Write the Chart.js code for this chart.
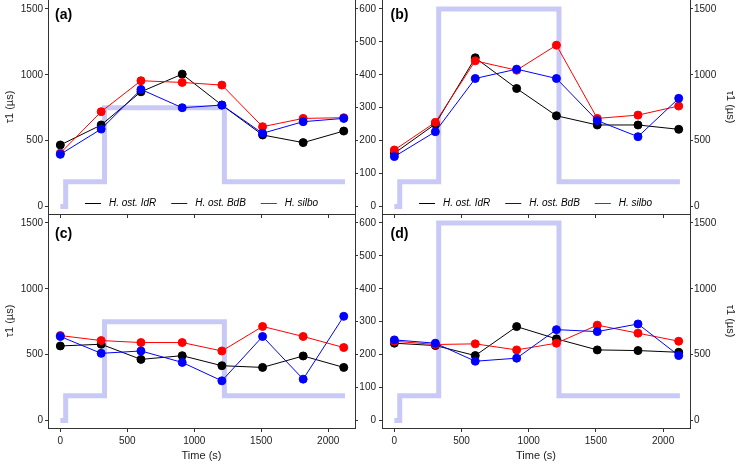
<!DOCTYPE html>
<html lang="en">
<head>
<meta charset="UTF-8">
<title>tau1 over time, four panels</title>
<script src="https://cdn.jsdelivr.net/npm/chart.js"></script>
<style>
  html, body { margin: 0; padding: 0; background: #fff; }
  #wrap { position: relative; width: 738px; height: 464px; }
  #wrap canvas { position: absolute; left: 0; top: 0; }
</style>
</head>
<body>
<div id="wrap">
  <canvas id="panelA" width="738" height="464"></canvas>
  <canvas id="panelB" width="738" height="464"></canvas>
  <canvas id="panelC" width="738" height="464"></canvas>
  <canvas id="panelD" width="738" height="464"></canvas>
</div>
<script>
// sampling times (s)
const timeS = [0, 305, 602, 910, 1206, 1510, 1813, 2116];
const seriesNames = ['H. ost. IdR', 'H. ost. BdB', 'H. silbo'];

// tau1 (us), panel (a)
const aIdR   = [467, 619, 871, 1005, 770, 543, 485, 573];
const aBdB   = [396, 588, 889, 750, 770, 556, 644, 669];
const aSilbo = [405, 720, 955, 942, 922, 606, 669, 674];
// panel (b)
const bIdR   = [404, 626, 1129, 896, 689, 619, 619, 586];
const bBdB   = [379, 568, 972, 1043, 972, 652, 530, 821];
const bSilbo = [429, 639, 1106, 1035, 1225, 669, 694, 763];
// panel (c)
const cIdR   = [566, 579, 464, 492, 416, 403, 490, 403];
const cBdB   = [638, 510, 528, 441, 301, 638, 314, 791];
const cSilbo = [645, 607, 592, 592, 528, 714, 638, 554];
// panel (d)
const dIdR   = [587, 569, 493, 713, 620, 536, 531, 518];
const dBdB   = [612, 587, 450, 473, 690, 675, 733, 493];
const dSilbo = [602, 577, 582, 536, 587, 724, 663, 602];

// light protocol (0-600 axis)
const stepTimes = [0, 40, 330, 1225, 2125];
const stepLow   = [0, 75, 300, 75, 75];
const stepHigh  = [0, 75, 600, 75, 75];

const tauTicks = [0, 500, 1000, 1500];
const lightTicks = [0, 100, 200, 300, 400, 500, 600];
const timeTicks = [0, 500, 1000, 1500, 2000];

const seriesColors = ['#000000', '#0000ff', '#ff0000'];
const drawOrder = [2, 0, 1];   // blue on top, then red, then black
const stepColor = '#c9c9f7';
const axisColor = '#333';
const textColor = '#222';
const fam = '"Liberation Sans", Arial, Helvetica, sans-serif';

function fixSize(w, h) {
  return scale => {
    if (w !== null) scale.width = w;
    if (h !== null) scale.height = h;
    scale.paddingLeft = scale.paddingRight = scale.paddingTop = scale.paddingBottom = 0;
  };
}
function setTicks(list) {
  return scale => { scale.ticks = list.map(v => ({ value: v })); };
}

// panel letter + in-plot legend
const panelDeco = {
  id: 'panelDeco',
  afterDraw(chart, args, opts) {
    const { ctx, chartArea } = chart;
    ctx.save();
    ctx.fillStyle = '#000';
    ctx.textBaseline = 'alphabetic';
    ctx.font = 'bold 14px ' + fam;
    ctx.fillText(opts.label, chartArea.left + opts.labelDx, opts.labelY);
    if (opts.legend) {
      ctx.font = 'italic 10px ' + fam;
      ctx.textBaseline = 'middle';
      let x = Math.round(chartArea.left + 37);
      const y = Math.round(chartArea.bottom - 11);
      seriesNames.forEach((name, i) => {
        ctx.fillStyle = seriesColors[i];
        ctx.fillRect(x, y, 16, 1);
        x += 24;
        ctx.fillStyle = '#000';
        ctx.fillText(name, x, y);
        x += ctx.measureText(name).width + 15;
      });
    }
    ctx.restore();
  }
};

function makePanel(id, p) {
  const isLeft = p.col === 0;
  const isBottom = p.row === 1;
  const datasets = seriesNames.map((name, i) => ({
    label: name,
    data: timeS.map((t, k) => ({ x: t, y: p.series[i][k] })),
    borderColor: seriesColors[i],
    backgroundColor: seriesColors[i],
    borderWidth: 1,
    pointRadius: 4,
    pointBorderWidth: 1,
    yAxisID: 'tau',
    order: drawOrder[i]
  }));
  datasets.push({
    label: 'light',
    data: stepTimes.map((t, k) => ({ x: t, y: p.step[k] })),
    stepped: 'before',
    borderColor: stepColor,
    borderWidth: 5,
    borderCapStyle: 'butt',
    pointRadius: 0,
    yAxisID: 'light',
    order: 9
  });

  const tickFont = { family: fam, size: 10 };
  const titleFont = { family: fam, size: 11 };

  new Chart(document.getElementById(id), {
    type: 'line',
    data: { datasets },
    plugins: [panelDeco],
    options: {
      responsive: false,
      animation: false,
      devicePixelRatio: 1,
      layout: {
        autoPadding: false,
        padding: {
          left: isLeft ? 0 : 356,
          right: isLeft ? 379 : 0,
          top: isBottom ? 214 : 0,
          bottom: isBottom ? 0 : 244
        }
      },
      plugins: {
        legend: { display: false },
        tooltip: { enabled: false },
        panelDeco: {
          label: p.label,
          labelDx: isLeft ? 7 : 8.5,
          labelY: isBottom ? 237.5 : 18.5,
          legend: !isBottom
        }
      },
      scales: {
        x: {
          type: 'linear',
          min: -92, max: 2200,
          afterBuildTicks: setTicks(timeTicks),
          afterFit: fixSize(null, isBottom ? 36 : 6),
          grid: { drawOnChartArea: false, drawTicks: true, tickLength: 4, color: axisColor },
          border: { display: true, color: axisColor },
          ticks: { display: isBottom, padding: 3, font: tickFont, color: textColor, callback: v => String(v) },
          title: { display: isBottom, text: 'Time (s)', font: titleFont, color: textColor, padding: { top: 0, bottom: 1 } }
        },
        tau: {
          type: 'linear',
          position: isLeft ? 'left' : 'right',
          min: -57, max: 1568,
          afterBuildTicks: setTicks(tauTicks),
          afterFit: fixSize(48, null),
          grid: { drawOnChartArea: false, drawTicks: true, tickLength: 3, color: axisColor },
          border: { display: true, color: axisColor },
          ticks: { padding: isLeft ? 2 : 1, font: tickFont, color: textColor, callback: v => String(v) },
          title: { display: true, text: 'τ1 (µs)', font: titleFont, color: textColor, padding: { top: isLeft ? 3 : 1, bottom: 0 } }
        },
        light: {
          type: 'linear',
          position: isLeft ? 'right' : 'left',
          min: -22.8, max: 627.2,
          afterBuildTicks: setTicks(lightTicks),
          afterFit: fixSize(isLeft ? 4 : 26, null),
          grid: { drawOnChartArea: false, drawTicks: true, tickLength: 3, color: axisColor },
          border: { display: true, color: axisColor },
          ticks: { display: !isLeft, padding: 3, font: tickFont, color: textColor, callback: v => String(v) }
        }
      }
    }
  });
}

makePanel('panelA', { label: '(a)', row: 0, col: 0, series: [aIdR, aBdB, aSilbo], step: stepLow });
makePanel('panelB', { label: '(b)', row: 0, col: 1, series: [bIdR, bBdB, bSilbo], step: stepHigh });
makePanel('panelC', { label: '(c)', row: 1, col: 0, series: [cIdR, cBdB, cSilbo], step: stepLow });
makePanel('panelD', { label: '(d)', row: 1, col: 1, series: [dIdR, dBdB, dSilbo], step: stepHigh });
</script>
</body>
</html>
